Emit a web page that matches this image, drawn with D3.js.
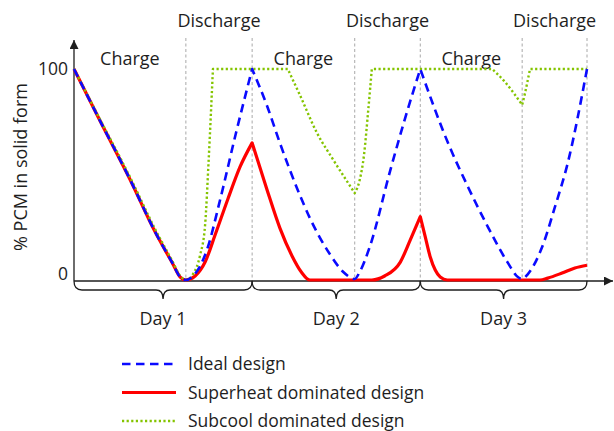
<!DOCTYPE html>
<html>
<head>
<meta charset="utf-8">
<script src="https://cdn.jsdelivr.net/npm/d3@7"></script>
<style>
  body { margin: 0; background: #fff; }
  text { font-family: "Open Sans", "Noto Sans", sans-serif; fill: #1e1e1e; }
</style>
</head>
<body>
<svg id="chart" width="614" height="431"></svg>
<script>
// ---- data (time in hours, value in % of PCM that is solid) ----
const phaseBounds = [15.7, 25, 39.4, 48.6, 62.9, 72];   // end of charge / discharge periods
const dayBounds = [0, 25, 48.6, 72];
const dayLabels = ["Day 1", "Day 2", "Day 3"];
const chargeText = "Charge";
const dischargeText = "Discharge";
const yTicks = [0, 100];
const yTitle = "% PCM in solid form";

const seriesNames = ["Ideal design", "Superheat dominated design", "Subcool dominated design"];

const idealT = [0, 3.6, 7.9, 11.4, 13.8, 14.9, 15.7, 16.7, 17.7, 18.7, 20.5, 22.7, 25,
  27.1, 28.9, 31.4, 33.1, 35.9, 37.8, 39.4, 40.1, 41.5, 44.4, 46.5, 48.6,
  52.5, 55.3, 58.1, 60.9, 62.3, 62.9, 63.7, 65.7, 67.5, 69.3, 72];
const idealV = [100, 75.8, 47.4, 22.7, 8.1, 1.4, 0, 1.9, 6.6, 14.7, 37.9, 69.2, 100,
  82.5, 64.9, 42.7, 29.4, 12.3, 3.8, 0.5, 3.8, 15.6, 52.1, 77, 100,
  64.9, 44.1, 25.1, 8.1, 1.4, 0.5, 2.8, 15.6, 34.6, 55.5, 100];
const idealCorners = [25, 48.6];

const superT = [0, 3.6, 7.9, 11.4, 13.8, 14.9, 15.7, 17.0, 18.4, 19.8, 21.6, 23.3, 25,
  27.1, 28.9, 30.6, 31.9, 33.1, 35.9, 41.8, 43.6, 45.8, 47.2, 48.6,
  49.3, 50.0, 50.7, 51.4, 52.4, 65.4, 66.5, 68.5, 70.3, 72];
const superV = [100, 75.8, 47.4, 22.7, 8.1, 1.4, 0, 1.9, 8.5, 21.3, 38.4, 53.6, 65,
  42.7, 24.6, 11.4, 3.8, 0, 0, 0, 1.9, 8.5, 19, 30,
  20.4, 10.9, 4.7, 1.4, 0, 0, 0.9, 3.3, 5.7, 7];
const superCorners = [25, 48.6];

const subT = [0, 3.6, 7.9, 11.4, 13.8, 14.9, 15.7, 16.7, 17.7, 18.4, 18.9, 19.5,
  30, 31.7, 34.1, 36.4, 39.4, 40.1, 40.7, 41.3, 41.8,
  58.7, 60.5, 62.9, 63.3, 64, 72];
const subV = [100, 76.5, 48.5, 24, 9, 2, 0, 2.8, 11.8, 26.1, 56.9, 100,
  100, 87.7, 69.7, 56.9, 41.2, 47.4, 59.2, 80.6, 100,
  100, 93.8, 83, 88.6, 100, 100];
const subCorners = [19.5, 30, 39.4, 41.8, 58.7, 62.9, 64];

// ---- layout ----
const svg = d3.select("#chart");
const x = d3.scaleLinear().domain([0, 72]).range([74, 587]);
const y = d3.scaleLinear().domain([0, 100]).range([280, 69]);
const axisY = y(0) + 1;
const ink = "#1e1e1e";

// arrow heads
const defs = svg.append("defs");
defs.append("marker").attr("id", "arrow")
  .attr("viewBox", "0 0 10 10").attr("refX", 10).attr("refY", 5)
  .attr("markerWidth", 10).attr("markerHeight", 9).attr("markerUnits", "userSpaceOnUse")
  .attr("orient", "auto")
  .append("path").attr("d", "M0,0 L10,5 L0,10 Z").attr("fill", ink);

// period separators
svg.append("g").selectAll("line").data(phaseBounds).join("line")
  .attr("x1", d => x(d)).attr("x2", d => x(d))
  .attr("y1", 38).attr("y2", axisY)
  .attr("stroke", "#a8a8a8").attr("stroke-width", 1).attr("stroke-dasharray", "3,2.5");

// axes
svg.append("line").attr("x1", x(0)).attr("y1", axisY).attr("x2", x(0)).attr("y2", 40)
  .attr("stroke", ink).attr("stroke-width", 1.3).attr("marker-end", "url(#arrow)");
svg.append("line").attr("x1", x(0)).attr("y1", axisY).attr("x2", 613).attr("y2", axisY)
  .attr("stroke", ink).attr("stroke-width", 1.3).attr("marker-end", "url(#arrow)");

// y tick labels
svg.append("g").selectAll("text").data(yTicks).join("text")
  .attr("x", x(0) - 6)
  .attr("y", d => d === 0 ? y(d) : y(d) + 6)
  .attr("text-anchor", "end").attr("font-size", 17.5)
  .text(d => d);

// y title
svg.append("text")
  .attr("transform", "translate(27,167) rotate(-90)")
  .attr("text-anchor", "middle").attr("font-size", 18)
  .text(yTitle);

// charge / discharge labels
const starts = [0, ...phaseBounds.slice(0, -1)];
svg.append("g").selectAll("text").data(phaseBounds).join("text")
  .attr("x", (d, i) => x((starts[i] + d) / 2))
  .attr("y", (d, i) => i % 2 === 0 ? 65 : 27)
  .attr("text-anchor", "middle").attr("font-size", 18)
  .text((d, i) => i % 2 === 0 ? chargeText : dischargeText);

// day braces
function brace(x0, x1, top) {
  const m = (x0 + x1) / 2, r = 8, h = 9;
  return `M${x0},${top} Q${x0},${top + h} ${x0 + r},${top + h} L${m - 7},${top + h} ` +
    `Q${m},${top + h} ${m},${top + 2 * h} Q${m},${top + h} ${m + 7},${top + h} ` +
    `L${x1 - r},${top + h} Q${x1},${top + h} ${x1},${top}`;
}
const days = dayLabels.map((lab, i) => ({ lab, a: dayBounds[i], b: dayBounds[i + 1] }));
svg.append("g").selectAll("path").data(days).join("path")
  .attr("d", d => brace(x(d.a), x(d.b), axisY))
  .attr("fill", "none").attr("stroke", ink).attr("stroke-width", 1.3);
svg.append("g").selectAll("text").data(days).join("text")
  .attr("x", d => x((d.a + d.b) / 2)).attr("y", 325)
  .attr("text-anchor", "middle").attr("font-size", 18)
  .text(d => d.lab);

// curves: smooth runs joined at sharp corners
function seriesPath(ts, vs, corners) {
  const line = d3.line().x(d => x(d[0])).y(d => y(d[1])).curve(d3.curveMonotoneX);
  const runs = [];
  let cur = [];
  ts.forEach((t, i) => {
    cur.push([t, vs[i]]);
    if (corners.includes(t)) { runs.push(cur); cur = [[t, vs[i]]]; }
  });
  if (cur.length > 1) runs.push(cur);
  return runs.map((r, i) => i === 0 ? line(r) : line(r).replace(/^M/, "L")).join("");
}

const styles = [
  { color: "#0a0aff", width: 2.6, dash: "8.5,5.5" },
  { color: "#ff0000", width: 3.2, dash: null },
  { color: "#84c400", width: 2.4, dash: "2.2,2.4" }
];
const series = [
  { t: superT, v: superV, c: superCorners, s: styles[1] },
  { t: subT, v: subV, c: subCorners, s: styles[2] },
  { t: idealT, v: idealV, c: idealCorners, s: styles[0] }
];
svg.append("g").selectAll("path").data(series).join("path")
  .attr("d", d => seriesPath(d.t, d.v, d.c))
  .attr("fill", "none")
  .attr("stroke", d => d.s.color)
  .attr("stroke-width", d => d.s.width)
  .attr("stroke-dasharray", d => d.s.dash)
  .attr("stroke-linejoin", "round");

// legend
const lg = svg.append("g").selectAll("g").data(seriesNames).join("g")
  .attr("transform", (d, i) => `translate(122,${364 + i * 28.5})`);
lg.append("line").attr("x1", 0).attr("x2", 54).attr("y1", 0).attr("y2", 0)
  .attr("stroke", (d, i) => styles[i].color)
  .attr("stroke-width", (d, i) => styles[i].width)
  .attr("stroke-dasharray", (d, i) => styles[i].dash);
lg.append("text").attr("x", 66).attr("y", 6).attr("font-size", 17.5).text(d => d);
</script>
</body>
</html>
